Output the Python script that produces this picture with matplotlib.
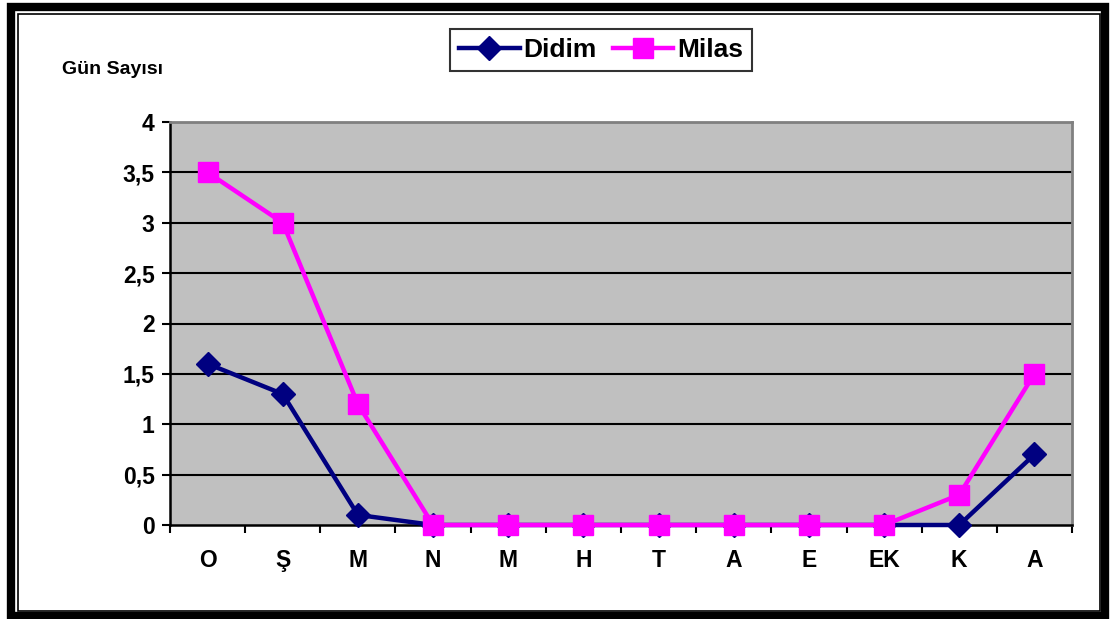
import matplotlib
matplotlib.use("Agg")
import matplotlib.pyplot as plt
from matplotlib.patches import Rectangle

plt.rcParams['font.family'] = ['Liberation Sans', 'DejaVu Sans']
plt.rcParams['font.weight'] = 'bold'

months = ['O', 'Ş', 'M', 'N', 'M', 'H', 'T', 'A', 'E', 'EK', 'K', 'A']
didim = [1.6, 1.3, 0.1, 0, 0, 0, 0, 0, 0, 0, 0, 0.7]
milas = [3.5, 3.0, 1.2, 0, 0, 0, 0, 0, 0, 0, 0.3, 1.5]
yticks = [0, 0.5, 1, 1.5, 2, 2.5, 3, 3.5, 4]
ylabels = ['0', '0,5', '1', '1,5', '2', '2,5', '3', '3,5', '4']

W, H = 1110, 619
fig = plt.figure(figsize=(W / 100, H / 100), dpi=100)

# double frame around the chart
fig.patches.append(Rectangle((11 / W, 3 / H), 1094 / W, 609.5 / H, transform=fig.transFigure,
                             fill=False, lw=6, ec='black'))
fig.patches.append(Rectangle((17.5 / W, 8.5 / H), 1082 / W, 597 / H, transform=fig.transFigure,
                             fill=False, lw=1.2, ec='black'))

ax = fig.add_axes([170 / W, (H - 525) / H, (1072 - 170) / W, (525 - 122) / H])
ax.set_facecolor('#C0C0C0')
x = list(range(len(months)))

for y in yticks[1:]:
    ax.axhline(y, color='black', lw=1.5, zorder=1)

ax.plot(x, didim, color='#000080', lw=3.2, marker='D', ms=12, label='Didim', zorder=3, clip_on=False)
ax.plot(x, milas, color='#FF00FF', lw=3.2, marker='s', ms=15, label='Milas', zorder=4, clip_on=False)

ax.set_xlim(-0.5, 11.5)
ax.set_ylim(0, 4)
ax.set_yticks(yticks)
ax.set_yticklabels(ylabels, fontsize=16.5, fontweight='bold')
ax.set_xticks(x)
ax.set_xticklabels(months, fontsize=16.5, fontweight='bold')
ax.set_xticks([i - 0.5 for i in range(len(months) + 1)], minor=True)
ax.tick_params(axis='x', which='major', length=0, pad=17)
ax.tick_params(axis='x', which='minor', length=6, width=1.5, direction='out')
ax.tick_params(axis='y', length=6, width=1.5, direction='out', pad=5)

ax.spines['left'].set_linewidth(1.8)
ax.spines['bottom'].set_linewidth(1.8)
ax.spines['top'].set_color('#808080')
ax.spines['right'].set_color('#808080')
ax.spines['top'].set_linewidth(2)
ax.spines['right'].set_linewidth(2)

fig.text(62 / W, 1 - 69 / H, 'Gün Sayısı', fontsize=14, fontweight='bold', va='center')

leg = fig.legend(loc='center', bbox_to_anchor=(601 / W, 1 - 50 / H), ncol=2,
                 prop={'size': 19, 'weight': 'bold'}, frameon=True, fancybox=False,
                 handlelength=2.3, handletextpad=0.15, columnspacing=0.6,
                 borderpad=0.35, edgecolor='black')
leg.get_frame().set_linewidth(1.5)

fig.savefig('out.png', dpi=100)
